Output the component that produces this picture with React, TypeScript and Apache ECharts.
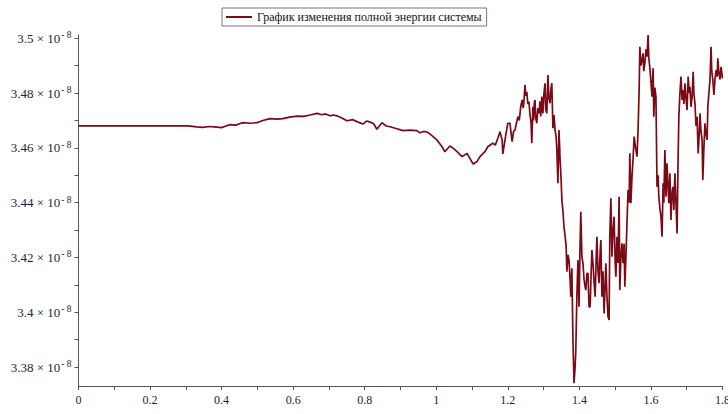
import React, { useEffect, useRef } from "react";
import * as echarts from "echarts";

// Energy values are given in units of 1e-8
const SERIES_NAME = "График изменения полной энергии системы";

const smoothPart: [number, number][] = [
  [0, 3.468], [0.306, 3.468], [0.33, 3.4677], [0.348, 3.4675], [0.365, 3.4678], [0.38, 3.4677], [0.4, 3.4674], [0.412, 3.468],
  [0.424, 3.4685], [0.44, 3.4683], [0.45, 3.4688], [0.46, 3.4692], [0.48, 3.469], [0.499, 3.4692], [0.515, 3.47],
  [0.535, 3.4707], [0.555, 3.4705], [0.571, 3.4707], [0.59, 3.4712], [0.611, 3.4716], [0.63, 3.4715], [0.647, 3.472],
  [0.667, 3.4726], [0.68, 3.4721], [0.69, 3.4724], [0.703, 3.4717], [0.712, 3.4720], [0.722, 3.4717], [0.735, 3.471],
  [0.75, 3.4699], [0.767, 3.4703], [0.78, 3.4695], [0.795, 3.4687], [0.805, 3.4698], [0.815, 3.4694],
  [0.825, 3.4688], [0.834, 3.4668], [0.848, 3.4692], [0.86, 3.468], [0.871, 3.4677], [0.89, 3.467],
  [0.907, 3.4663], [0.925, 3.4665], [0.946, 3.4663], [0.954, 3.4655], [0.965, 3.466], [0.974, 3.4658],
  [0.982, 3.4651], [0.991, 3.4641], [1.002, 3.4629], [1.016, 3.4604], [1.024, 3.4586], [1.038, 3.4607],
  [1.047, 3.4599], [1.058, 3.4586], [1.072, 3.4568], [1.086, 3.458], [1.094, 3.4562], [1.103, 3.4541],
  [1.114, 3.455], [1.122, 3.4568], [1.136, 3.4586], [1.144, 3.4604], [1.158, 3.4617], [1.165, 3.461],
  [1.172, 3.4635], [1.178, 3.4659], [1.184, 3.4629], [1.186, 3.4578], [1.195, 3.4653], [1.2, 3.469],
];

const risingDropPart: [number, number][] = [
  [1.206, 3.469], [1.209, 3.4655], [1.212, 3.4623], [1.216, 3.466], [1.22, 3.4665], [1.224, 3.469],
  [1.228, 3.4714], [1.232, 3.47], [1.236, 3.475], [1.24, 3.4775], [1.243, 3.4745], [1.245, 3.477],
  [1.248, 3.483], [1.25, 3.479], [1.253, 3.4805], [1.256, 3.476], [1.259, 3.4769], [1.262, 3.472],
  [1.265, 3.469], [1.267, 3.4617], [1.27, 3.475], [1.272, 3.47], [1.274, 3.4765], [1.276, 3.4775],
  [1.278, 3.471], [1.281, 3.469], [1.284, 3.4745], [1.287, 3.4726], [1.29, 3.477], [1.292, 3.4715],
  [1.295, 3.4787], [1.298, 3.4726], [1.301, 3.48], [1.304, 3.4836], [1.306, 3.474], [1.309, 3.4726],
  [1.312, 3.4866], [1.315, 3.478], [1.318, 3.4763], [1.321, 3.482], [1.323, 3.4836], [1.326, 3.4672],
  [1.329, 3.472], [1.332, 3.4665], [1.335, 3.464], [1.337, 3.4592], [1.34, 3.4471], [1.343, 3.4665],
  [1.346, 3.456], [1.349, 3.4483], [1.351, 3.441], [1.354, 3.437], [1.357, 3.4312], [1.36, 3.428],
  [1.363, 3.4239], [1.365, 3.4148], [1.368, 3.421], [1.371, 3.4191], [1.374, 3.412], [1.376, 3.4057],
  [1.379, 3.4161], [1.382, 3.3899], [1.385, 3.3741], [1.388, 3.38], [1.39, 3.3862], [1.393, 3.406],
  [1.396, 3.4191], [1.399, 3.402], [1.402, 3.425], [1.404, 3.4367], [1.407, 3.4203], [1.41, 3.4179],
  [1.413, 3.412], [1.416, 3.4093], [1.418, 3.4081], [1.421, 3.4142], [1.424, 3.4142], [1.427, 3.402],
];

const lowBandPart: [number, number][] = [
  [1.43, 3.402], [1.433, 3.415], [1.435, 3.4227], [1.438, 3.4179], [1.441, 3.411], [1.444, 3.4057],
  [1.447, 3.42], [1.449, 3.4276], [1.452, 3.415], [1.455, 3.4106], [1.458, 3.422], [1.46, 3.4264],
  [1.463, 3.4057], [1.466, 3.415], [1.469, 3.3996], [1.472, 3.41], [1.474, 3.4179], [1.477, 3.406],
  [1.48, 3.3984], [1.483, 3.3972], [1.485, 3.4276], [1.488, 3.4416], [1.491, 3.4203], [1.494, 3.43],
  [1.497, 3.4349], [1.5, 3.418], [1.502, 3.413], [1.505, 3.4276], [1.508, 3.418], [1.511, 3.4422],
  [1.513, 3.4081], [1.516, 3.42], [1.519, 3.4252], [1.522, 3.4179], [1.525, 3.425], [1.527, 3.4093],
  [1.53, 3.42], [1.533, 3.4325], [1.536, 3.4446], [1.539, 3.44], [1.541, 3.458], [1.544, 3.4398],
  [1.547, 3.4495], [1.55, 3.456], [1.553, 3.4641], [1.557, 3.46], [1.561, 3.4568], [1.564, 3.4665],
  [1.567, 3.4811],
];

const highBandPart: [number, number][] = [
  [1.569, 3.4969], [1.572, 3.49], [1.575, 3.4921], [1.578, 3.4945], [1.58, 3.488], [1.583, 3.4909],
  [1.586, 3.496], [1.589, 3.4933], [1.592, 3.5012], [1.594, 3.493], [1.597, 3.4891], [1.6, 3.484],
  [1.603, 3.4787], [1.606, 3.4891], [1.608, 3.4714], [1.611, 3.482], [1.614, 3.4787], [1.617, 3.4458],
  [1.62, 3.45], [1.622, 3.4422], [1.625, 3.438], [1.628, 3.4349], [1.631, 3.4276], [1.634, 3.4471],
  [1.636, 3.44], [1.639, 3.4592], [1.642, 3.4422], [1.645, 3.4544], [1.648, 3.445], [1.65, 3.4398],
  [1.653, 3.4507], [1.656, 3.4337], [1.658, 3.442], [1.661, 3.4458], [1.664, 3.4373], [1.667, 3.4507],
  [1.67, 3.44], [1.673, 3.4288], [1.676, 3.4568], [1.678, 3.4714], [1.681, 3.48], [1.684, 3.486],
  [1.687, 3.4775], [1.69, 3.4811], [1.692, 3.476], [1.695, 3.4836], [1.698, 3.478], [1.701, 3.4738],
  [1.704, 3.486], [1.707, 3.48], [1.709, 3.4823], [1.712, 3.475], [1.715, 3.4787], [1.718, 3.4878],
  [1.72, 3.48], [1.723, 3.4763], [1.726, 3.468], [1.729, 3.4714], [1.732, 3.458], [1.735, 3.465],
  [1.737, 3.4726], [1.74, 3.466], [1.743, 3.4629], [1.745, 3.4483], [1.748, 3.46], [1.751, 3.469],
  [1.754, 3.465], [1.757, 3.4629], [1.759, 3.475], [1.762, 3.48], [1.765, 3.4848], [1.768, 3.4969],
  [1.77, 3.488], [1.773, 3.4848], [1.776, 3.4793], [1.779, 3.485], [1.782, 3.4884], [1.785, 3.486],
  [1.787, 3.4927], [1.79, 3.4872], [1.793, 3.485], [1.796, 3.4896], [1.8, 3.4854],
];

const yLabelValues = [3.38, 3.4, 3.42, 3.44, 3.46, 3.48, 3.5];
const yTickValues = [3.38, 3.39, 3.4, 3.41, 3.42, 3.43, 3.44, 3.45, 3.46, 3.47, 3.48, 3.49, 3.5];
const xLabelValues = [0, 0.2, 0.4, 0.6, 0.8, 1, 1.2, 1.4, 1.6, 1.8];
const xTickValues = [0, 0.1, 0.2, 0.3, 0.4, 0.5, 0.6, 0.7, 0.8, 0.9, 1, 1.1, 1.2, 1.3, 1.4, 1.5, 1.6, 1.7, 1.8];

const SERIF = "'Liberation Serif', 'DejaVu Serif', serif";
const LINE_COLOR = "#7a0a16";
const AXIS_COLOR = "#555";
const LABEL_COLOR = "#1e1e3c";

export default function App() {
  const ref = useRef<HTMLDivElement>(null);
  useEffect(() => {
    if (!ref.current) return;
    const chart = echarts.init(ref.current, undefined, { renderer: "svg" });
    const data = [...smoothPart, ...risingDropPart, ...lowBandPart, ...highBandPart];
    chart.setOption({
      animation: false,
      backgroundColor: "#fff",
      grid: { left: 78.5, right: 5.5, top: 35, bottom: 28, containLabel: false, outerBoundsMode: "none" },
      legend: {
        data: [SERIES_NAME],
        left: 222,
        top: 8,
        borderColor: "#777",
        borderWidth: 1,
        borderRadius: 0,
        padding: [3, 5, 3, 4],
        icon: "rect",
        itemWidth: 26,
        itemHeight: 2,
        itemGap: 6,
        textStyle: { fontFamily: SERIF, fontSize: 12, color: "#111" },
      },
      xAxis: {
        type: "value",
        min: 0,
        max: 1.8,
        name: "x",
        nameLocation: "middle",
        nameGap: 31,
        nameTextStyle: { fontFamily: SERIF, fontSize: 12, color: LABEL_COLOR },
        axisLine: { show: true, onZero: false, lineStyle: { color: AXIS_COLOR, width: 1 } },
        axisTick: { show: true, customValues: xTickValues, length: 4, lineStyle: { color: AXIS_COLOR } },
        axisLabel: {
          customValues: xLabelValues,
          margin: 8,
          fontFamily: SERIF,
          fontSize: 12,
          color: LABEL_COLOR,
          formatter: (v: number) => String(parseFloat(v.toFixed(1))),
        },
        splitLine: { show: false },
      },
      yAxis: {
        type: "value",
        min: 3.3731,
        max: 3.5012,
        axisLine: { show: true, onZero: false, lineStyle: { color: AXIS_COLOR, width: 1 } },
        axisTick: { show: true, customValues: yTickValues, length: 4, lineStyle: { color: AXIS_COLOR } },
        axisLabel: {
          customValues: yLabelValues,
          margin: 7,
          formatter: (v: number) => `{m|${parseFloat(v.toFixed(2))} × 10}{e|- 8}`,
          rich: {
            m: { fontFamily: SERIF, fontSize: 13, color: LABEL_COLOR, lineHeight: 16 },
            e: { fontFamily: SERIF, fontSize: 9.5, color: LABEL_COLOR, lineHeight: 9, verticalAlign: "top", padding: [0, 0, 0, 1] },
          },
        },
        splitLine: { show: false },
      },
      series: [
        {
          name: SERIES_NAME,
          type: "line",
          data,
          symbol: "none",
          showSymbol: false,
          lineStyle: { color: LINE_COLOR, width: 1.7 },
          itemStyle: { color: LINE_COLOR },
        },
      ],
    });
    return () => chart.dispose();
  }, []);
  return (
    <div
      ref={ref}
      style={{ position: "fixed", left: 0, top: 0, width: 728, height: 414, background: "#fff" }}
    />
  );
}
